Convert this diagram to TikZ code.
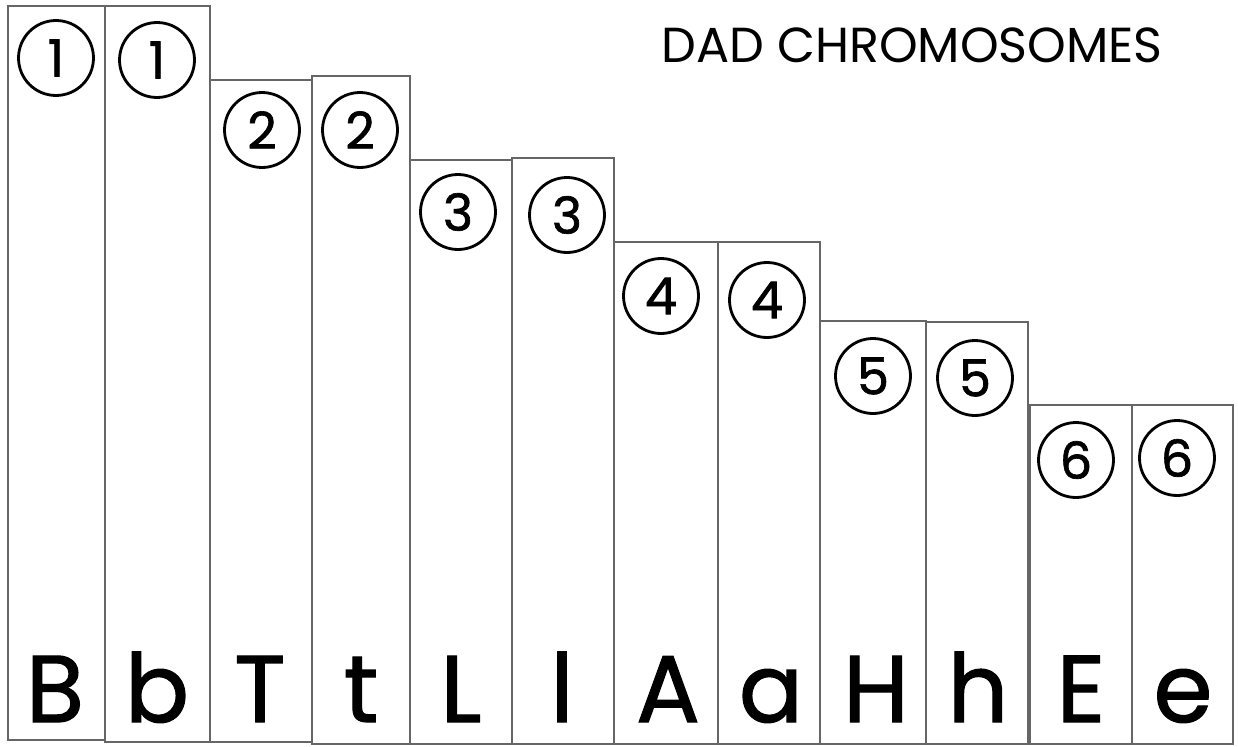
\documentclass[tikz,border=0pt]{standalone}
\usepackage{fontspec}
\setmainfont{Poppins}
\newfontfamily\handfont[FakeBold=1.3]{Poppins}
\usetikzlibrary{calc}

\tikzset{
  chrom/.style={draw=black!60, line width=0.6pt},
  num/.style={circle, draw, line width=1.6pt, minimum size=1.5cm, inner sep=0pt,
    font=\handfont\fontsize{29}{29}\selectfont},
  allele/.style={anchor=base, inner sep=0pt, font=\handfont\fontsize{54}{54}\selectfont},
}

\begin{document}
\begin{tikzpicture}[x=0.02cm,y=-0.02cm]
\useasboundingbox (0,0) rectangle (1238,747);

\node[font=\fontsize{28}{28}\selectfont] (title) at (912,45) {DAD CHROMOSOMES};

% pair 1
\draw[chrom] (8,6) rectangle (105,740);
\draw[chrom] (105,6) rectangle (210,742);
\node[num] (n1a) at (56,58) {1};
\node[num] (n1b) at (157,60) {1};
% pair 2
\draw[chrom] (210,80) rectangle (312,742);
\draw[chrom] (312,76) rectangle (410,744);
\node[num] (n2a) at (262,130) {2};
\node[num] (n2b) at (360,130) {2};
% pair 3
\draw[chrom] (410,160) rectangle (512,744);
\draw[chrom] (512,158) rectangle (614,744);
\node[num] (n3a) at (458,212) {3};
\node[num] (n3b) at (567,215) {3};
% pair 4
\draw[chrom] (614,242) rectangle (718,744);
\draw[chrom] (718,242) rectangle (820,744);
\node[num] (n4a) at (661,296) {4};
\node[num] (n4b) at (767,300) {4};
% pair 5
\draw[chrom] (820,321) rectangle (926,744);
\draw[chrom] (926,322) rectangle (1028,744);
\node[num] (n5a) at (873,376) {5};
\node[num] (n5b) at (975,378) {5};
% pair 6
\draw[chrom] (1030,405) rectangle (1132,744);
\draw[chrom] (1132,405) rectangle (1233,744);
\node[num] (n6a) at (1076,460) {6};
\node[num] (n6b) at (1177,458) {6};

% alleles
\node[allele] (aB) at (55,722) {B};
\node[allele] (ab) at (157,722) {b};
\node[allele] (aT) at (260,722) {T};
\node[allele] (at) at (361,722) {t};
\node[allele] (aL) at (461,722) {L};
\node[allele] (al) at (562,722) {l};
\node[allele] (aA) at (668,722) {A};
\node[allele] (aa) at (771,722) {a};
\node[allele] (aH) at (876,722) {H};
\node[allele] (ah) at (978,722) {h};
\node[allele] (aE) at (1081,722) {E};
\node[allele] (ae) at (1183,722) {e};
\end{tikzpicture}
\end{document}
